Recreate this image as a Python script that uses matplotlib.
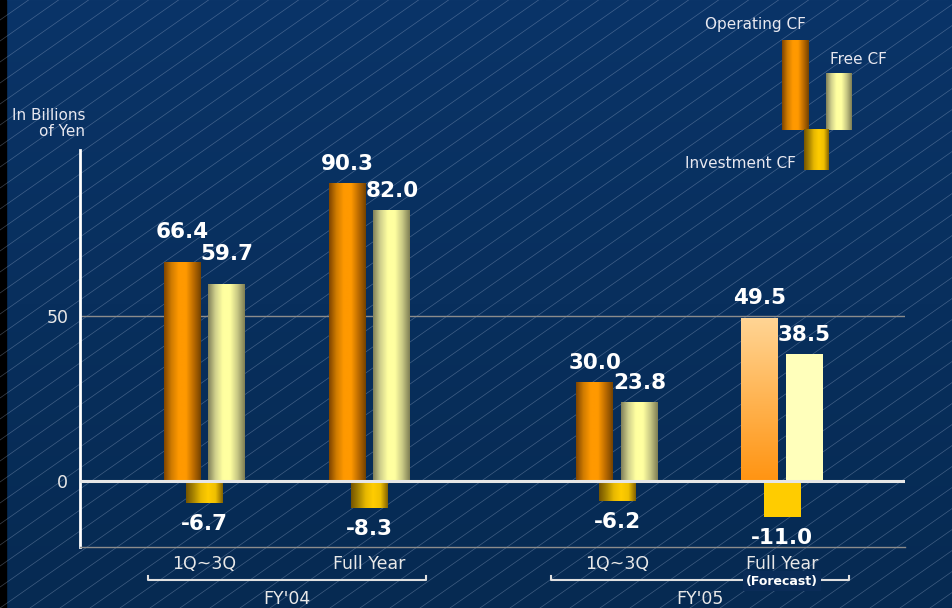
import matplotlib.pyplot as plt
import numpy as np
from matplotlib.colors import LinearSegmentedColormap
from matplotlib.patches import Rectangle
from matplotlib.transforms import blended_transform_factory

# cash flows, billions of yen
periods = ['1Q~3Q', 'Full Year', '1Q~3Q', 'Full Year']
fiscal_years = ["FY'04", "FY'05"]
operating_cf = [66.4, 90.3, 30.0, 49.5]
investment_cf = [-6.7, -8.3, -6.2, -11.0]
free_cf = [59.7, 82.0, 23.8, 38.5]

# layout
W, H = 952, 608
x = np.array([0, 1, 2.5, 3.5])
width = 0.224
shift = 0.136

ORANGE = ['#7e4400', '#d07c00', '#ff9900', '#ff9900', '#bd6c00', '#744200']
GOLD = ['#745400', '#a88400', '#e8b800', '#ffcc00', '#f0c000', '#846200']
PALE = ['#80805a', '#d0d08c', '#ffffa0', '#ffffa0', '#c8c884', '#7e7e54']
PEACH = ['#ff9412', '#ffb452', '#ffd595']


def shade(axis, x0, y0, w, h, colors, clip=None, vertical=False):
    cmap = LinearSegmentedColormap.from_list('g', colors)
    g = np.linspace(0, 1, 128)
    img = g.reshape(-1, 1) if vertical else g.reshape(1, -1)
    im = axis.imshow(img, cmap=cmap, aspect='auto', origin='lower',
                     extent=(x0, x0 + w, y0, y0 + h), zorder=3,
                     interpolation='bilinear')
    if clip is not None:
        im.set_clip_path(clip)


fig = plt.figure(figsize=(W / 100, H / 100), dpi=100)

# background: navy gradient with thin diagonal stripes
bg = fig.add_axes([0, 0, 1, 1])
bg.axis('off')
navy = LinearSegmentedColormap.from_list('navy', ['#0a3468', '#062a52'])
bg.imshow(np.linspace(0, 1, 256).reshape(-1, 1), cmap=navy, aspect='auto',
          extent=(0, W, H, 0))
for c in np.arange(-900, W + 30, 30):
    bg.plot([c, c + H / 0.7], [H, 0], color='#9fb2d0', lw=0.5, alpha=0.38)
bg.add_patch(Rectangle((0, 0), 6, H, color='black'))

# legend (drawn in pixel space)
shade(bg, 782, 130, 27, -90, ORANGE)
shade(bg, 826, 130, 26, -57, PALE)
shade(bg, 804, 170, 25, -41, GOLD)
bg.text(755, 24, 'Operating CF', color='#e8e8f0', fontsize=11, ha='center', va='center')
bg.text(830, 59, 'Free CF', color='#e8e8f0', fontsize=11, ha='left', va='center')
bg.text(740, 163, 'Investment CF', color='#e8e8f0', fontsize=11, ha='center', va='center')
bg.set_xlim(0, W)
bg.set_ylim(H, 0)

# main chart
ax = fig.add_axes([80 / W, 1 - 547 / H, 825 / W, 397 / H])
ax.patch.set_alpha(0)

op_bars = ax.bar(x - shift, operating_cf, width, lw=0, zorder=3)
inv_bars = ax.bar(x, investment_cf, width, lw=0, zorder=3)
free_bars = ax.bar(x + shift, free_cf, width, lw=0, zorder=3)

for i in range(len(x)):
    forecast = i == len(x) - 1
    for bars, cols in ((op_bars, ORANGE), (inv_bars, GOLD), (free_bars, PALE)):
        b = bars[i]
        if forecast:
            if bars is op_bars:
                shade(ax, b.get_x(), 0, b.get_width(), b.get_height(), PEACH,
                      clip=b, vertical=True)
                b.set_facecolor('none')
            else:
                b.set_facecolor('#ffcc00' if bars is inv_bars else '#ffffbb')
        else:
            shade(ax, b.get_x(), 0, b.get_width(), b.get_height(), cols, clip=b)
            b.set_facecolor('none')

# value labels
lift = [17, 9.5, 9.5, 9.5]
for i in range(len(x)):
    for xx, v in ((x[i] - shift, operating_cf[i]), (x[i] + shift, free_cf[i])):
        ax.annotate(f'{v:.1f}', xy=(xx, v), xytext=(0, lift[i]),
                    textcoords='offset points', ha='center', va='baseline',
                    color='white', fontsize=15.5, fontweight='bold', zorder=6)
    ax.annotate(f'{investment_cf[i]:.1f}', xy=(x[i], investment_cf[i]),
                xytext=(0, -7.5), textcoords='offset points', ha='center',
                va='top', color='white', fontsize=15.5, fontweight='bold', zorder=6)

ax.axhline(50, color='#8c8c8c', lw=1, zorder=1)
ax.axhline(0, color='#e6e6e6', lw=2.2, zorder=4)

ax.set_xlim(-0.7545, 4.245)
ax.set_ylim(-20.0, 100.3)
ax.set_yticks([0, 50])
ax.set_xticks(x, periods)
ax.tick_params(axis='y', length=0, pad=8.5, labelcolor='#e8e8e8', labelsize=12.5)
ax.tick_params(axis='x', length=0, pad=6, labelcolor='#e8e8e8', labelsize=12.5)
for s in ('top', 'right'):
    ax.spines[s].set_visible(False)
ax.spines['left'].set_color('white')
ax.spines['left'].set_linewidth(2)
ax.spines['bottom'].set_color('#8c8c8c')
ax.spines['bottom'].set_linewidth(1)

# fiscal-year brackets
tr = blended_transform_factory(ax.transData, ax.transAxes)
centers = [(x[0] + x[1]) / 2, (x[2] + x[3]) / 2]
half = [0.845, 0.903]
yb, yt = -33 / 397, -29 / 397
for cx, hw, label in zip(centers, half, fiscal_years):
    ax.plot([cx - hw, cx - hw, cx + hw, cx + hw], [yt, yb, yb, yt],
            transform=tr, color='#e0e0e0', lw=1.5, clip_on=False)
    ax.annotate(label, xy=(cx, 0), xycoords=tr, xytext=(0, -31),
                textcoords='offset points', ha='center', va='top',
                color='#e8e8e8', fontsize=12.5)

ax.annotate('(Forecast)', xy=(x[3], 0), xycoords=tr, xytext=(0, -24.5),
            textcoords='offset points', ha='center', va='center',
            color='white', fontsize=9, fontweight='bold', zorder=7,
            bbox=dict(boxstyle='square,pad=0.25', fc='#0a2c58', ec='none'))

fig.text(85 / W, 1 - 108 / H, 'In Billions\nof Yen', ha='right', va='top',
         multialignment='right', color='#e8e8f0', fontsize=11, linespacing=1.05)

plt.savefig('out.png', dpi=100)
